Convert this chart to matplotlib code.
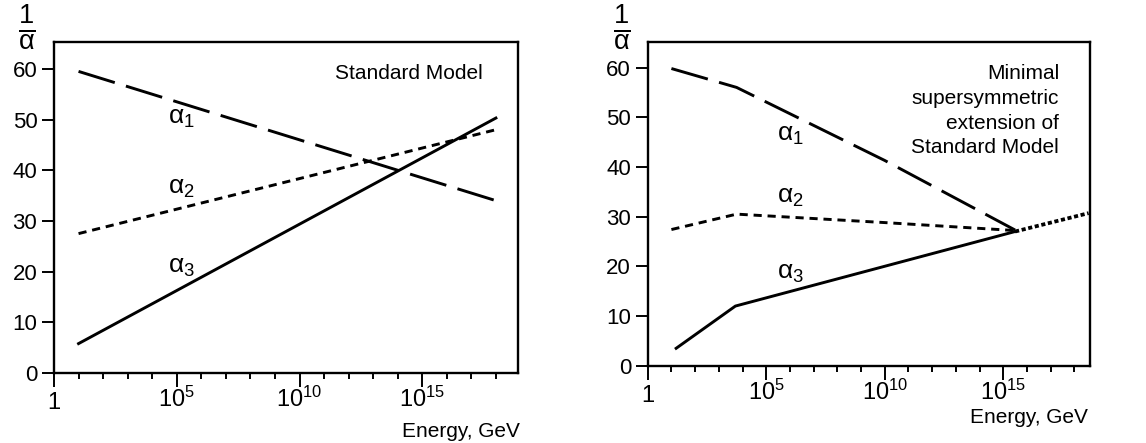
import matplotlib
matplotlib.use('Agg')
from matplotlib import pyplot as plt
from matplotlib.ticker import FixedLocator, NullFormatter
import numpy as np

# inverse couplings (energy in GeV)
sm_energy = [1e1, 1e18]
sm_inv_a1 = [59.5, 34.0]
sm_inv_a2 = [27.5, 48.0]
sm_inv_a3 = [5.8, 50.3]

mssm_energy_12 = [1e1, 10 ** 3.75, 1e10, 10 ** 15.5]
mssm_inv_a1 = [59.8, 56.0, 41.3, 27.3]
mssm_inv_a2 = [27.4, 30.5, 28.8, 27.2]
mssm_energy_3 = [10 ** 1.2, 10 ** 3.7, 10 ** 15.5]
mssm_inv_a3 = [3.5, 12.0, 27.0]
unified_energy = [10 ** 15.5, 10 ** 18.6]
unified_inv_a = [27.0, 30.7]

major_ticks = [1, 1e5, 1e10, 1e15]
major_labels = ['$1$', '$10^{5}$', '$10^{10}$', '$10^{15}$']
y_ticks = [0, 10, 20, 30, 40, 50, 60]

plt.rcParams['font.family'] = ['Liberation Sans', 'DejaVu Sans']
plt.rcParams['mathtext.fontset'] = 'custom'
plt.rcParams['mathtext.rm'] = 'Liberation Sans'
plt.rcParams['mathtext.it'] = 'Liberation Sans'
plt.rcParams['mathtext.bf'] = 'Liberation Sans:bold'

fig = plt.figure(figsize=(11.46, 4.43), dpi=100)
ax1 = fig.add_axes([54 / 1146, 70 / 443, 464 / 1146, 331 / 443])
ax2 = fig.add_axes([647.7 / 1146, 77.3 / 443, 442.3 / 1146, 324 / 443])

lw = 2.1
long_dash = (13, 4)
short_dash = (2.8, 2.0)

# standard model panel
ax1.plot(sm_energy, sm_inv_a1, color='black', lw=lw, dashes=long_dash)
ax1.plot(sm_energy, sm_inv_a2, color='black', lw=lw, dashes=short_dash)
ax1.plot(sm_energy, sm_inv_a3, color='black', lw=lw)
ax1.set_xlim(1, 10 ** 18.9)
ax1.set_ylim(0, 65.3)

# supersymmetric panel
ax2.plot(mssm_energy_12, mssm_inv_a1, color='black', lw=lw, dashes=long_dash)
ax2.plot(mssm_energy_12, mssm_inv_a2, color='black', lw=lw, dashes=short_dash)
ax2.plot(mssm_energy_3, mssm_inv_a3, color='black', lw=lw)
ax2.plot(unified_energy, unified_inv_a, color='black', lw=2.7, dashes=(1.1, 0.7))
ax2.set_xlim(1, 10 ** 18.66)
ax2.set_ylim(0, 65.2)

for ax in (ax1, ax2):
    ax.set_xscale('log')
    ax.xaxis.set_major_locator(FixedLocator(major_ticks))
    ax.set_xticklabels(major_labels)
    ax.xaxis.set_minor_locator(FixedLocator([10.0 ** k for k in range(1, 19) if k % 5 != 0]))
    ax.xaxis.set_minor_formatter(NullFormatter())
    ax.set_yticks(y_ticks)
    ax.tick_params(axis='x', which='major', direction='out', length=10, width=1.4, pad=0, labelsize=17)
    ax.tick_params(axis='x', which='minor', direction='out', length=4, width=1.4)
    ax.tick_params(axis='y', which='major', direction='out', length=9, width=1.4, pad=3, labelsize=16)
    # the "1" label sits a little lower than the powers of ten
    ax.xaxis.get_major_ticks()[0].set_pad(4)
    for spine in ax.spines.values():
        spine.set_linewidth(1.7)
    ax.text(-0.058, 1.045, r'$\frac{1}{\alpha}$', transform=ax.transAxes,
            ha='center', va='center', fontsize=28)

ax1.text(1.004, -0.178, 'Energy, GeV', transform=ax1.transAxes, ha='right', va='center', fontsize=15)
ax2.text(0.995, -0.16, 'Energy, GeV', transform=ax2.transAxes, ha='right', va='center', fontsize=15)

# curve labels
ax1.text(10 ** 5.2, 50.3, r'$\alpha_1$', ha='center', va='center', fontsize=19)
ax1.text(10 ** 5.2, 36.5, r'$\alpha_2$', ha='center', va='center', fontsize=19)
ax1.text(10 ** 5.2, 21.0, r'$\alpha_3$', ha='center', va='center', fontsize=19)
ax2.text(10 ** 6.0, 46.4, r'$\alpha_1$', ha='center', va='center', fontsize=19)
ax2.text(10 ** 6.0, 34.0, r'$\alpha_2$', ha='center', va='center', fontsize=19)
ax2.text(10 ** 6.0, 18.6, r'$\alpha_3$', ha='center', va='center', fontsize=19)

ax1.text(0.925, 0.905, 'Standard Model', transform=ax1.transAxes,
         ha='right', va='center', fontsize=15)
ax2.text(0.93, 0.93, 'Minimal\nsupersymmetric\nextension of\nStandard Model',
         transform=ax2.transAxes, ha='right', va='top', fontsize=15, linespacing=1.38)

fig.savefig('out.png', dpi=100)
